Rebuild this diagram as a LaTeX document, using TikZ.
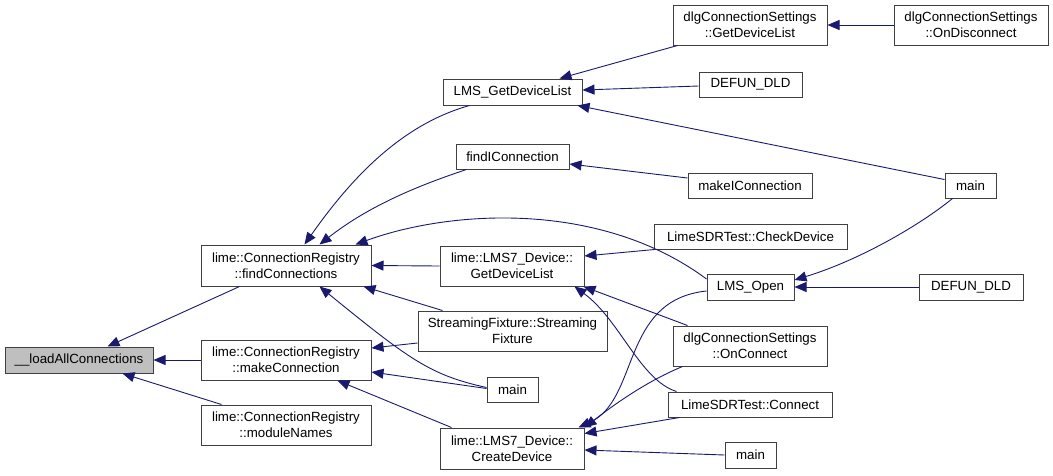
\documentclass[tikz,border=0pt]{standalone}
\usepackage{fontspec}
\setmainfont{Liberation Sans}
\usetikzlibrary{arrows.meta,calc}
\definecolor{edgeblue}{HTML}{191970}
\definecolor{boxgray}{HTML}{404040}
\definecolor{fillgray}{HTML}{BFBFBF}
\newcommand\nodefont{\fontsize{13.3}{16}\selectfont}
\begin{document}
\begin{tikzpicture}[x=1pt,y=-1pt,
  fn/.style={draw=boxgray, line width=1pt, fill=white, inner sep=0pt, align=center, font=\nodefont, text=black},
  ed/.style={draw=edgeblue, line width=0.9pt, -{Triangle[length=12pt,width=10pt]}}]
\useasboundingbox (0,0) rectangle (1053,475);
% nodes
\node[fn, fill=fillgray, minimum width=148pt, minimum height=26pt] (la) at (79,360) {\_\_loadAllConnections};
\node[fn, minimum width=170pt, minimum height=41pt] (fc) at (286,265.5) {lime::ConnectionRegistry\\::findConnections};
\node[fn, minimum width=170pt, minimum height=40pt] (mc) at (286,360) {lime::ConnectionRegistry\\::makeConnection};
\node[fn, minimum width=170pt, minimum height=40pt] (mn) at (286,425) {lime::ConnectionRegistry\\::moduleNames};
\node[fn, minimum width=139pt, minimum height=26pt] (gdl) at (512.5,92) {LMS\_GetDeviceList};
\node[fn, minimum width=113pt, minimum height=25pt] (fic) at (512.5,156.5) {findIConnection};
\node[fn, minimum width=144pt, minimum height=40pt] (l7gdl) at (512,266) {lime::LMS7\_Device::\\GetDeviceList};
\node[fn, minimum width=189pt, minimum height=40pt] (sf) at (512.5,331) {StreamingFixture::Streaming\\Fixture};
\node[fn, minimum width=51pt, minimum height=25pt] (m1) at (512.5,389.5) {main};
\node[fn, minimum width=144pt, minimum height=41pt] (cd) at (512,448.5) {lime::LMS7\_Device::\\CreateDevice};
\node[fn, minimum width=154pt, minimum height=40pt] (dgdl) at (750,25) {dlgConnectionSettings\\::GetDeviceList};
\node[fn, minimum width=154pt, minimum height=40pt] (dod) at (971,25) {dlgConnectionSettings\\::OnDisconnect};
\node[fn, minimum width=103pt, minimum height=25pt] (dd1) at (750.5,84.5) {DEFUN\_DLD};
\node[fn, minimum width=124pt, minimum height=25pt] (mic) at (750,185.5) {makeIConnection};
\node[fn, minimum width=51pt, minimum height=25pt] (m2) at (970.5,185.5) {main};
\node[fn, minimum width=193pt, minimum height=25pt] (cdev) at (750.5,236.5) {LimeSDRTest::CheckDevice};
\node[fn, minimum width=87pt, minimum height=26pt] (lo) at (750.5,287) {LMS\_Open};
\node[fn, minimum width=104pt, minimum height=26pt] (dd2) at (971,287) {DEFUN\_DLD};
\node[fn, minimum width=154pt, minimum height=40pt] (doc) at (750,346) {dlgConnectionSettings\\::OnConnect};
\node[fn, minimum width=164pt, minimum height=25pt] (lc) at (750,404.5) {LimeSDRTest::Connect};
\node[fn, minimum width=51pt, minimum height=26pt] (m3) at (750.5,455) {main};
% edges
\draw[ed] ($(fc.south west)+(39,0)$) -- ($(la.north west)+(103,0)$);
\draw[ed] (mc.west) -- (la.east);
\draw[ed] ($(mn.north west)+(21,0)$) -- ($(la.south west)+(118,0)$);
\draw[ed] ($(gdl.south west)+(27,0)$) .. controls (400,125) and (350,180) .. ($(fc.north west)+(104,0)$);
\draw[ed] ($(fic.south west)+(11,0)$) .. controls (420,185) and (370,205) .. ($(fc.north west)+(119,0)$);
\draw[ed] ($(lo.west)+(0,-8)$) .. controls (600,200) and (450,210) .. ($(fc.north east)+(-16,0)$);
\draw[ed] (l7gdl.west) -- (fc.east);
\draw[ed] ($(sf.north west)+(25,0)$) -- ($(fc.south east)+(-8,0)$);
\draw[ed] ($(m1.west)+(0,-2)$) .. controls (430,375) and (410,360) .. ($(fc.south west)+(119,0)$);
\draw[ed] ($(sf.west)+(0,12)$) -- ($(mc.east)+(0,-12)$);
\draw[ed] ($(m1.west)+(0,-1)$) -- ($(mc.east)+(0,12)$);
\draw[ed] ($(cd.north west)+(12,0)$) -- ($(mc.south west)+(137,0)$);
\draw[ed] ($(dgdl.south west)+(5,0)$) -- ($(gdl.north west)+(117,0)$);
\draw[ed] ($(dd1.west)+(0,1.5)$) -- ($(gdl.east)+(0,-2)$);
\draw[ed] ($(m2.north west)+(0,7)$) -- ($(gdl.south east)+(-5,0)$);
\draw[ed] ($(mic.west)+(0,-7.5)$) -- ($(fic.east)+(0,7.5)$);
\draw[ed] ($(cdev.south west)+(1,0)$) -- ($(l7gdl.east)+(0,-10)$);
\draw[ed] ($(doc.north west)+(15,0)$) -- ($(l7gdl.south east)+(-1,0)$);
\draw[ed] ($(lc.north west)+(9,0)$) .. controls (640,380) and (620,320) .. ($(l7gdl.south east)+(-10,0)$);
\draw[ed] (dod.west) -- (dgdl.east);
\draw[ed] ($(m2.south west)+(8,0)$) .. controls (920,225) and (860,260) .. ($(lo.east)+(0,-7)$);
\draw[ed] (dd2.west) -- (lo.east);
\draw[ed] ($(lo.west)+(0,4)$) .. controls (620,300) and (640,400) .. ($(cd.north east)+(-6,0)$);
\draw[ed] ($(doc.south west)+(10,0)$) .. controls (650,380) and (620,400) .. (cd.north east);
\draw[ed] ($(lc.south west)+(12,0)$) -- ($(cd.east)+(0,-15)$);
\draw[ed] (m3.west) -- ($(cd.east)+(0,1.5)$);
\end{tikzpicture}
\end{document}
